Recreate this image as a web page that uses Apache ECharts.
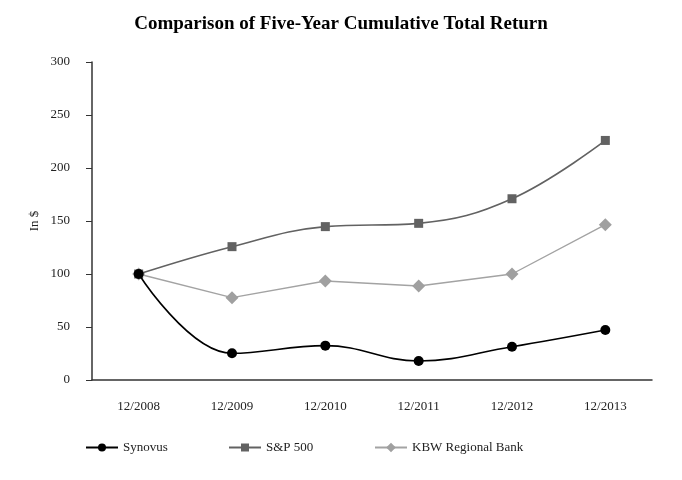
<!DOCTYPE html>
<html><head><meta charset="utf-8">
<script src="https://cdn.jsdelivr.net/npm/echarts@6/dist/echarts.min.js"></script>
<style>html,body{margin:0;padding:0;background:#fff}#c{width:682px;height:480px}</style>
</head><body><div id="c"></div>
<script>
const categories = ['12/2008','12/2009','12/2010','12/2011','12/2012','12/2013'];
const synovus = [100, 25.2, 32.4, 17.9, 31.4, 47.2];
const sp500 = [100, 125.8, 144.7, 147.8, 171, 226];
const kbw = [100, 77.7, 93.4, 88.7, 100, 146.5];
const yTicks = [0, 50, 100, 150, 200, 250, 300];

const font = '"Liberation Serif", "DejaVu Serif", serif';
const chart = echarts.init(document.getElementById('c'));
const legendText = {fontFamily: font, fontSize: 13, color: '#222'};
chart.setOption({
  animation: false,
  title: {text: 'Comparison of Five-Year Cumulative Total Return', left: 'center', top: 10,
    textStyle: {fontFamily: font, fontSize: 19, fontWeight: 'bold', color: '#000'}},
  legend: [
    {data: ['Synovus'], left: 80, top: 436, itemWidth: 32, itemHeight: 10, itemGap: 8, textStyle: legendText},
    {data: ['S&P 500'], left: 223, top: 436, itemWidth: 32, itemHeight: 10, textStyle: legendText},
    {data: ['KBW Regional Bank'], left: 369, top: 436, itemWidth: 32, itemHeight: 12, textStyle: legendText}
  ],
  grid: {left: 92, right: 30, top: 62, bottom: 100},
  xAxis: {type: 'category', data: categories, boundaryGap: true,
    axisLine: {lineStyle: {color: '#333', width: 1.5}},
    axisTick: {alignWithLabel: true, length: 5, lineStyle: {color: '#333'}},
    axisLabel: {fontFamily: font, fontSize: 13, color: '#222', margin: 20}},
  yAxis: {type: 'value', min: 0, max: 300, interval: 50, name: 'In $', nameLocation: 'middle', nameGap: 51,
    nameMoveOverlap: false,
    nameTextStyle: {fontFamily: font, fontSize: 13, color: '#222'},
    axisLine: {show: true, lineStyle: {color: '#333', width: 1.5}},
    axisTick: {show: true, length: 6, lineStyle: {color: '#333'}},
    splitLine: {show: false},
    axisLabel: {fontFamily: font, fontSize: 13, color: '#222', margin: 22,
      formatter: v => yTicks.includes(v) ? String(v) : ''}},
  series: [
    {name: 'Synovus', type: 'line', data: synovus, smooth: 0.4, symbol: 'circle', symbolSize: 10, z: 5,
      lineStyle: {color: '#000', width: 1.6}, itemStyle: {color: '#000'}},
    {name: 'S&P 500', type: 'line', data: sp500, smooth: 0.4, symbol: 'rect', symbolSize: 9, z: 4,
      lineStyle: {color: '#626262', width: 1.6}, itemStyle: {color: '#626262'}},
    {name: 'KBW Regional Bank', type: 'line', data: kbw, smooth: false, symbol: 'diamond', symbolSize: 13, z: 3,
      lineStyle: {color: '#a3a3a3', width: 1.4}, itemStyle: {color: '#a0a0a0'}}
  ]
});
</script></body></html>
